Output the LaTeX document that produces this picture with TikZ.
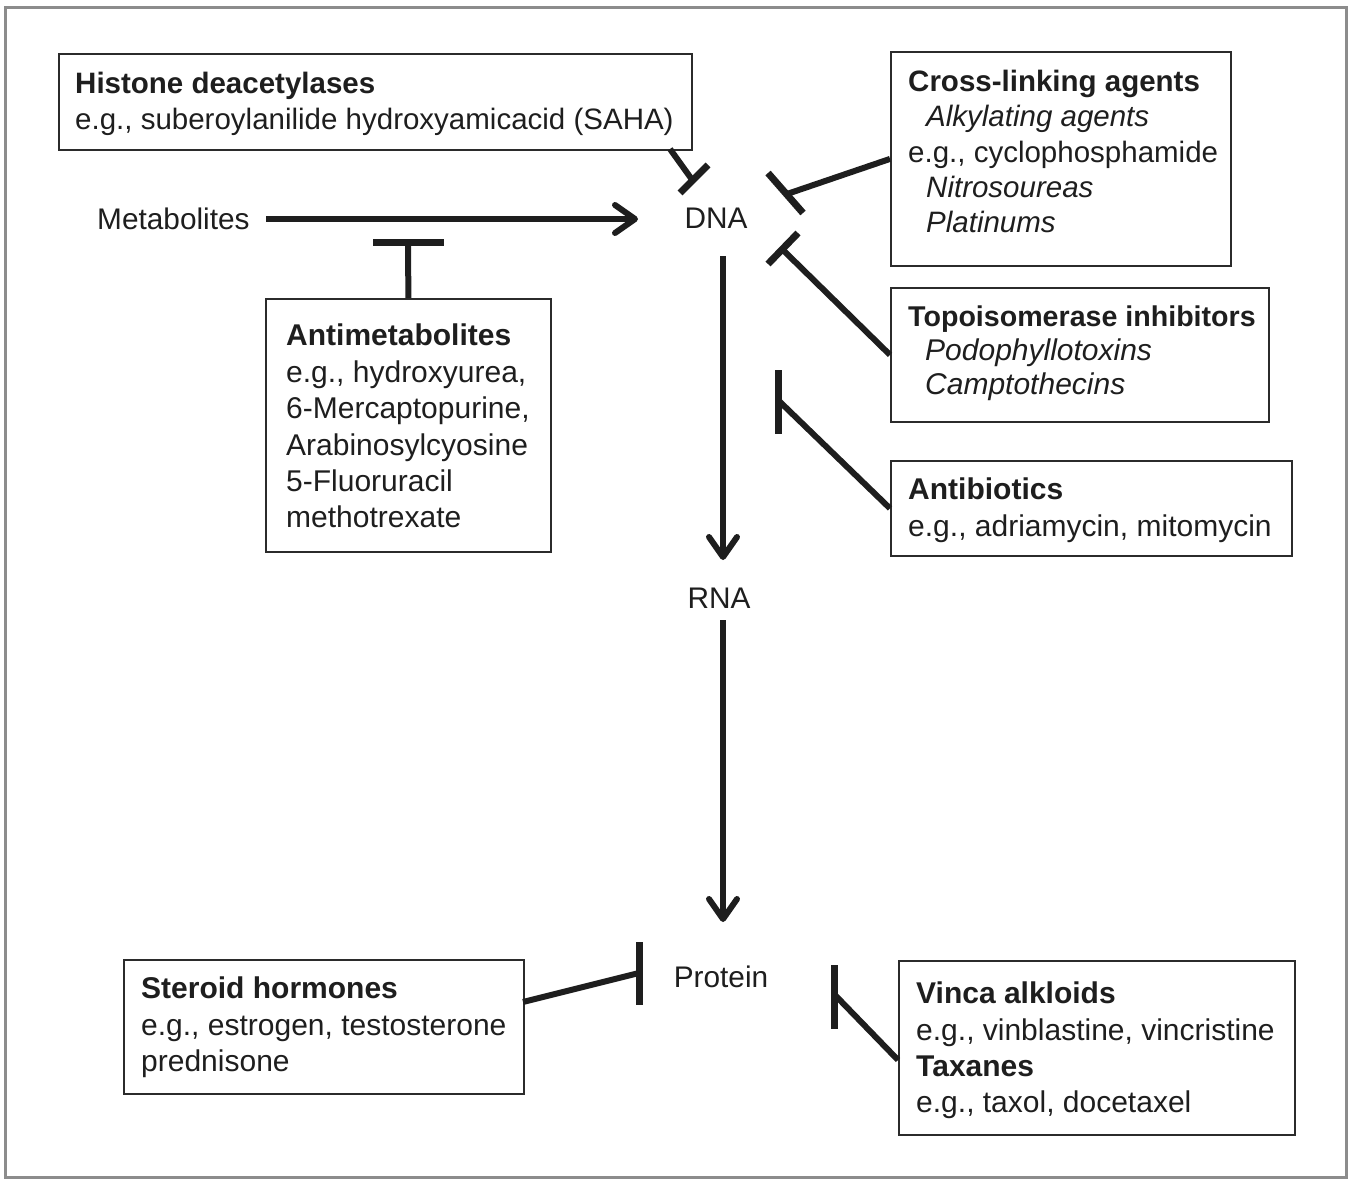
\documentclass[tikz,border=0pt]{standalone}
\usepackage{fontspec}
\setmainfont{Liberation Sans}
\usetikzlibrary{arrows.meta,calc}
\definecolor{framegray}{HTML}{8C8C8C}
\definecolor{boxline}{HTML}{2B2B2B}
\definecolor{ink}{HTML}{1E1E1E}
\begin{document}
\begin{tikzpicture}[x=1pt,y=-1pt,
  box/.style={draw=boxline, line width=1.8pt, anchor=north west, inner sep=0pt, minimum width=#1},
  txt/.style={anchor=north west, inner sep=0pt, align=left, text=ink, font=\fontsize{30}{36}\selectfont},
  lbl/.style={inner sep=0pt, text=ink, font=\fontsize{29.8}{36}\selectfont},
  arr/.style={draw=ink, line width=6pt, -{Straight Barb[length=20pt,width=28pt,line cap=round,line join=round]}},
  inh/.style={draw=ink, line width=6pt},
  tbar/.style={draw=ink, line width=7pt}]
\useasboundingbox (0,0) rectangle (1351,1178);
\draw[framegray, line width=3pt] (5,7) rectangle (1346,1177);

% central labels
\node[lbl, anchor=west] (met) at (97,219) {Metabolites};
\node[lbl] (dna) at (716,218) {DNA};
\node[lbl] (rna) at (719,598) {RNA};
\node[lbl] (prot) at (721,977) {Protein};

% boxes
\node[box=633pt, minimum height=96pt] (hda) at (58,53) {};
\node[txt, font=\fontsize{29.5}{36}\selectfont] (hdat) at (75,72) {\textbf{Histone deacetylases}\\e.g., suberoylanilide hydroxyamicacid (SAHA)};

\node[box=340pt, minimum height=214pt] (cl) at (890,51) {};
\node[txt, font=\fontsize{29.5}{35.3}\selectfont] (clt) at (908,70) {\textbf{Cross-linking agents}\\\hspace*{18pt}\textit{Alkylating agents}\\e.g., cyclophosphamide\\\hspace*{18pt}\textit{Nitrosoureas}\\\hspace*{18pt}\textit{Platinums}};

\node[box=378pt, minimum height=134pt] (topo) at (890,287) {};
\node[txt, font=\fontsize{30}{34}\selectfont] (topot) at (908,306) {{\fontsize{28.6}{34}\selectfont\textbf{Topoisomerase inhibitors}}\\\hspace*{17pt}\textit{Podophyllotoxins}\\\hspace*{17pt}\textit{Camptothecins}};

\node[box=401pt, minimum height=95pt] (ab) at (890,460) {};
\node[txt, font=\fontsize{30}{37}\selectfont] (abt) at (908,478) {\textbf{Antibiotics}\\e.g., adriamycin, mitomycin};

\node[box=285pt, minimum height=253pt] (am) at (265,298) {};
\node[txt, font=\fontsize{30}{36.4}\selectfont] (amt) at (286,324) {\textbf{Antimetabolites}\\e.g., hydroxyurea,\\6-Mercaptopurine,\\Arabinosylcyosine\\5-Fluoruracil\\methotrexate};

\node[box=400pt, minimum height=134pt] (st) at (123,959) {};
\node[txt, font=\fontsize{30}{36.5}\selectfont] (stt) at (141,977) {\textbf{Steroid hormones}\\e.g., estrogen, testosterone\\prednisone};

\node[box=396pt, minimum height=174pt] (vi) at (898,960) {};
\node[txt, font=\fontsize{30}{36.3}\selectfont] (vit) at (916,982) {\textbf{Vinca alkloids}\\e.g., vinblastine, vincristine\\\textbf{Taxanes}\\e.g., taxol, docetaxel};

% coordinates for connector ends
\coordinate (metE) at (266,219);
\coordinate (dnaW) at (638,219);
\coordinate (dnaS) at (723,256);
\coordinate (rnaN) at (723,560);
\coordinate (rnaS) at (723,620);
\coordinate (protN) at (723,922);

\coordinate (hdaS) at (670,149);
\coordinate (hdaE) at (693,181);
\coordinate (hdaB1) at (680,193);
\coordinate (hdaB2) at (708,165);

\coordinate (clE) at (787,194);
\coordinate (clB1) at (768,173);
\coordinate (clB2) at (803,213);

\coordinate (topoE) at (783,250);
\coordinate (topoB1) at (768,264);
\coordinate (topoB2) at (798,233);

\coordinate (abE) at (778,400);
\coordinate (abB1) at (778,370);
\coordinate (abB2) at (778,434);

\coordinate (amE) at (408,242);
\coordinate (amB1) at (373,242);
\coordinate (amB2) at (444,242);

\coordinate (stS) at (523,1002);
\coordinate (stE) at (639,973);
\coordinate (stB1) at (639,942);
\coordinate (stB2) at (639,1005);

\coordinate (viS) at (898,1060);
\coordinate (viE) at (834,994);
\coordinate (viB1) at (834,965);
\coordinate (viB2) at (834,1029);

% activating arrows
\draw[arr] (metE) -- (dnaW);
\draw[arr] (dnaS) -- (rnaN);
\draw[arr] (rnaS) -- (protN);

% inhibition connectors
\draw[inh] (hdaS) -- (hdaE);
\draw[tbar] (hdaB1) -- (hdaB2);

\draw[inh] (cl.west) -- (clE);
\draw[tbar] (clB1) -- (clB2);

\draw[inh] (topo.west) -- (topoE);
\draw[tbar] (topoB1) -- (topoB2);

\draw[inh] (ab.west) -- (abE);
\draw[tbar] (abB1) -- (abB2);

\draw[inh] (am.north) -- (amE);
\draw[tbar] (amB1) -- (amB2);

\draw[inh] (stS) -- (stE);
\draw[tbar] (stB1) -- (stB2);

\draw[inh] (viS) -- (viE);
\draw[tbar] (viB1) -- (viB2);
\end{tikzpicture}
\end{document}
